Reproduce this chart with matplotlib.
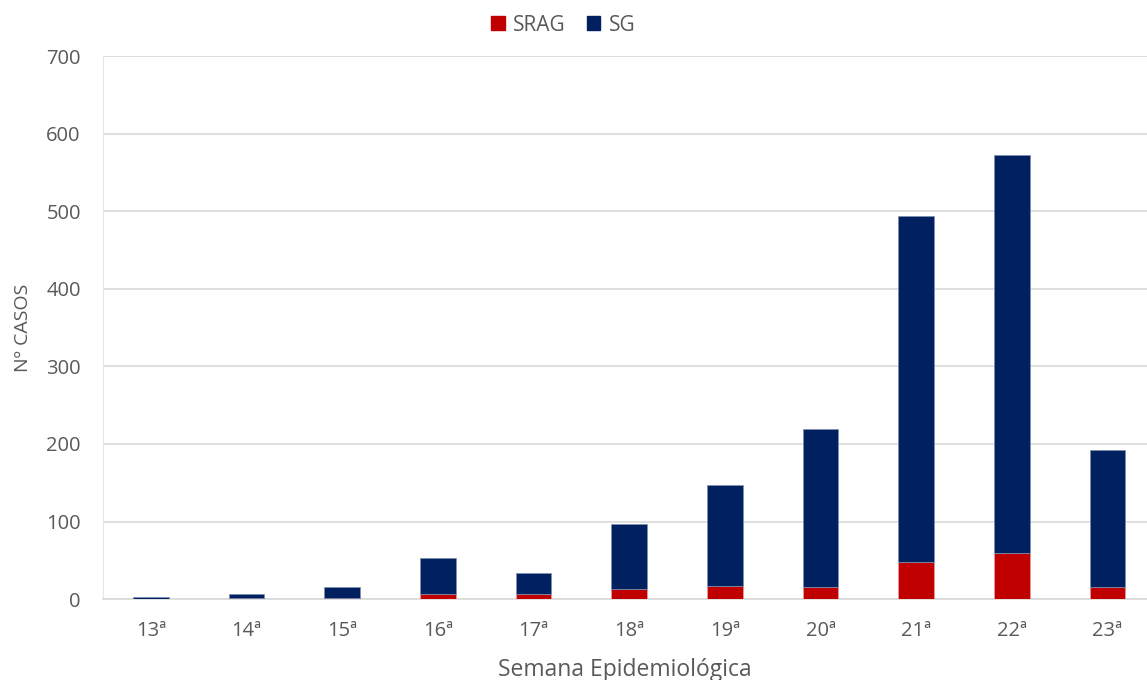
import matplotlib
matplotlib.use("Agg")
import matplotlib.pyplot as plt
from matplotlib.patches import Patch

semanas = ["13ª", "14ª", "15ª", "16ª", "17ª", "18ª", "19ª", "20ª", "21ª", "22ª", "23ª"]
srag = [0, 1, 1, 7, 7, 13, 17, 16, 48, 60, 16]
sg = [3, 6, 15, 46, 26, 84, 130, 203, 446, 512, 176]

plt.rcParams["font.family"] = ["Open Sans", "DejaVu Sans"]
text_color = "#595959"

fig = plt.figure(figsize=(11.47, 6.8), dpi=100)
ax = fig.add_axes([0.0898, 0.119, 0.910, 0.7985])

x = list(range(len(semanas)))
w = 0.375
ax.bar(x, srag, width=w, color="#C00000", edgecolor="#E8A0A0", linewidth=0.5, zorder=3, label="SRAG")
ax.bar(x, sg, width=w, bottom=srag, color="#002060", edgecolor="#8090B0", linewidth=0.5, zorder=3, label="SG")

ax.set_xlim(-0.5, 10.41)
ax.set_ylim(0, 700)
ax.set_yticks(range(0, 701, 100))
ax.set_xticks(x)
ax.set_xticklabels(semanas)
ax.grid(axis="y", color="#D9D9D9", linewidth=1.2, zorder=0)
ax.set_axisbelow(True)

for s in ["top", "right"]:
    ax.spines[s].set_visible(False)
ax.spines["left"].set_color("#E6E6E6")
ax.spines["bottom"].set_color("#D9D9D9")
ax.spines["bottom"].set_linewidth(1.2)
ax.tick_params(axis="both", length=0, labelsize=14.5, colors=text_color)
ax.tick_params(axis="x", pad=15.5)
ax.tick_params(axis="y", pad=16)

ax.set_ylabel("Nº CASOS", fontsize=14, color=text_color, labelpad=10)
ax.set_xlabel("Semana Epidemiológica", fontsize=16.5, color=text_color, labelpad=12.5)

handles = [Patch(color="#C00000", label="SRAG"), Patch(color="#002060", label="SG")]
fig.legend(handles=handles, loc="center", bbox_to_anchor=(0.491, 0.963), ncol=2, frameon=False,
           fontsize=15, labelcolor=text_color, handlelength=0.65, handleheight=0.65,
           handletextpad=0.4, columnspacing=1.0)

fig.savefig("out.png", dpi=100)
